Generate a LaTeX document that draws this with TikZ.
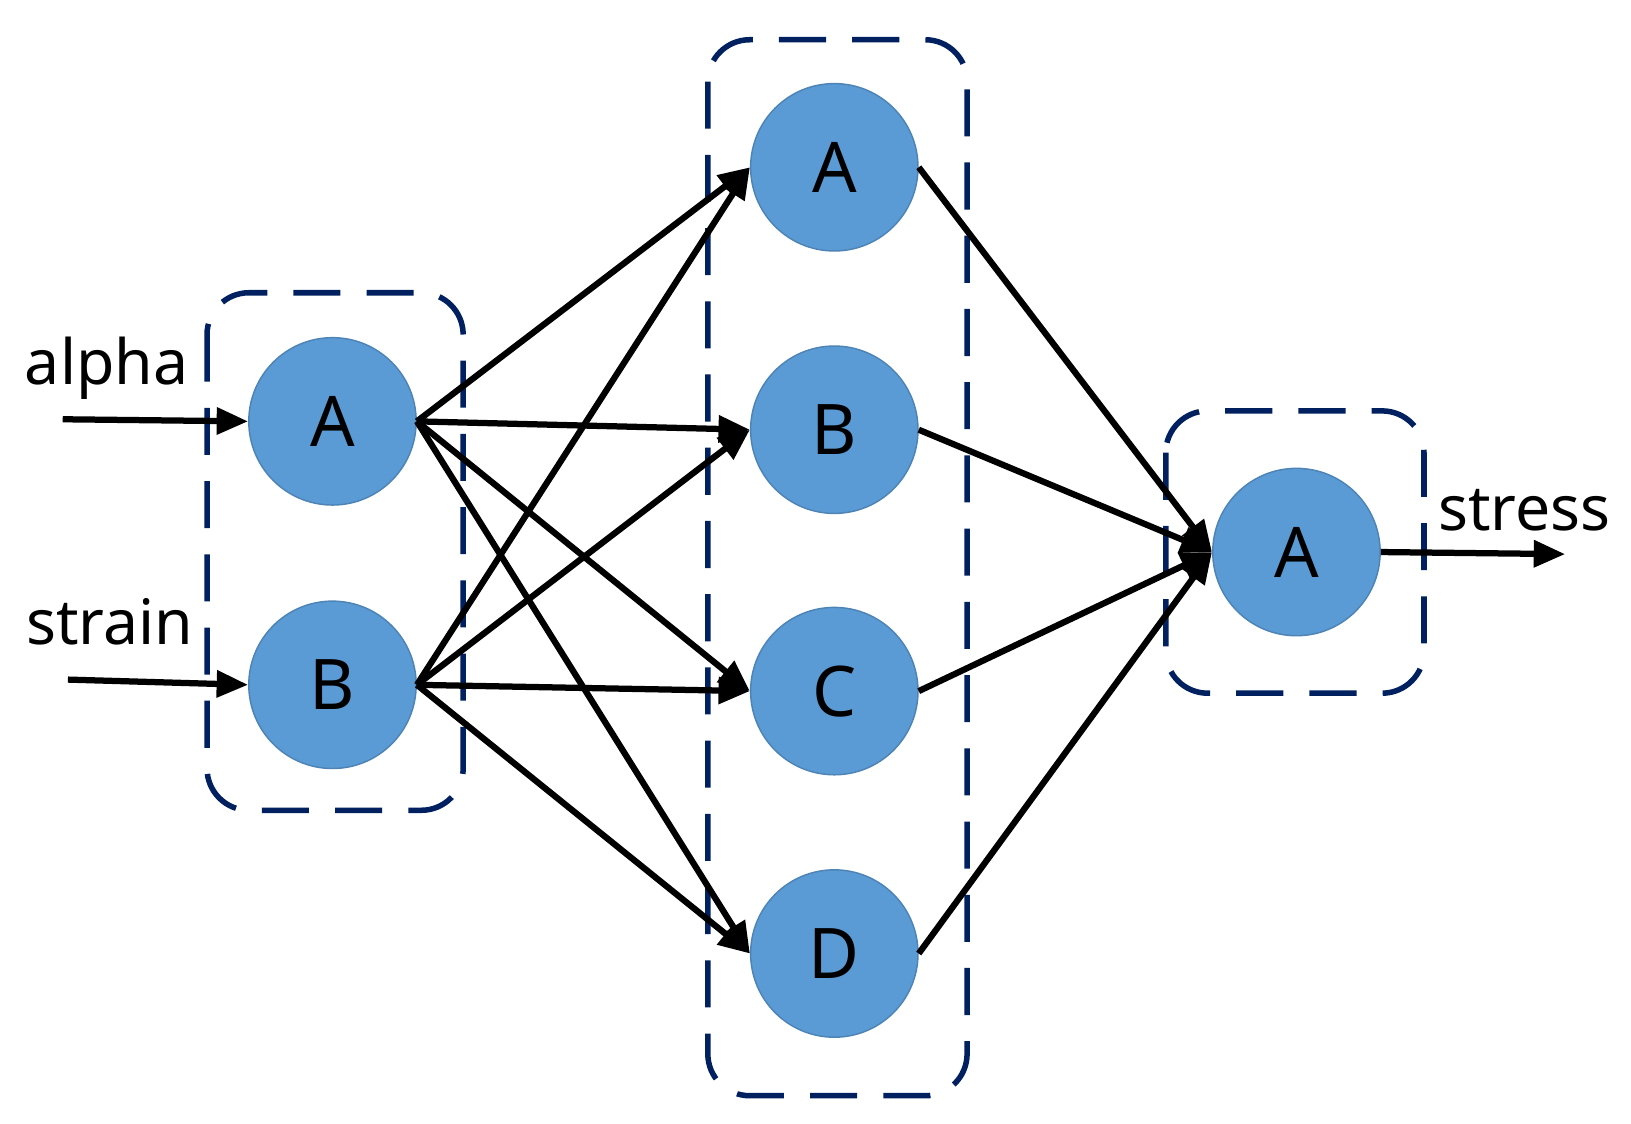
\documentclass[tikz,border=0pt]{standalone}
\usepackage{fontspec}
\setmainfont{Noto Sans}
\usetikzlibrary{positioning,arrows.meta}
\definecolor{cellblue}{HTML}{5B9BD5}
\definecolor{darknavy}{HTML}{002060}

\tikzset{
  neuron/.style={circle, draw=cellblue!85!black, thin, fill=cellblue, minimum size=1.6cm, inner sep=0pt, font=\fontsize{19}{19}\selectfont\bfseries},
  group/.style={draw=darknavy, line width=1.5pt, dash pattern=on 0.45cm off 0.25cm, rounded corners=0.4cm},
  link/.style={-{Triangle[length=0.3cm,width=0.25cm]}, line width=1.7pt},
  word/.style={font=\fontsize{17}{17}\selectfont}
}

\begin{document}
\begin{tikzpicture}[x=0.01cm,y=-0.01cm]
   \useasboundingbox (0,0) rectangle (1560,1075);
   % groups
   \draw[group] (198,280) rectangle (443,775);
   \draw[group] (677,38) rectangle (925,1048);
   \draw[group] (1115,393) rectangle (1362,663);
   % input layer
   \node[neuron] (inA) at (318,403) {A};
   \node[neuron] (inB) at (318,655) {B};
   % hidden layer
   \node[neuron] (hA) at (798,160) {A};
   \node[neuron] (hB) at (798,411) {B};
   \node[neuron] (hC) at (798,661) {C};
   \node[neuron] (hD) at (798,912) {D};
   % output layer
   \node[neuron] (outA) at (1240,528) {A};
   % labels
   \node[word] (alpha) at (102,352) {alpha};
   \node[word] (strain) at (105,595) {strain};
   \node[word] (stress) at (1458,488) {stress};
   \coordinate (alphain) at (60,401);
   \coordinate (strainin) at (65,650);
   \coordinate (stressout) at (1497,530);
   \draw[link] (alphain) -- (inA.west);
   \draw[link] (strainin) -- (inB.west);
   \draw[link] (outA.east) -- (stressout);
   \foreach \src in {inA,inB}
     \foreach \dst in {hA,hB,hC,hD}
       \draw[link] (\src.east) -- (\dst.west);
   \foreach \src in {hA,hB,hC,hD}
     \draw[link] (\src.east) -- (outA.west);
\end{tikzpicture}
\end{document}
